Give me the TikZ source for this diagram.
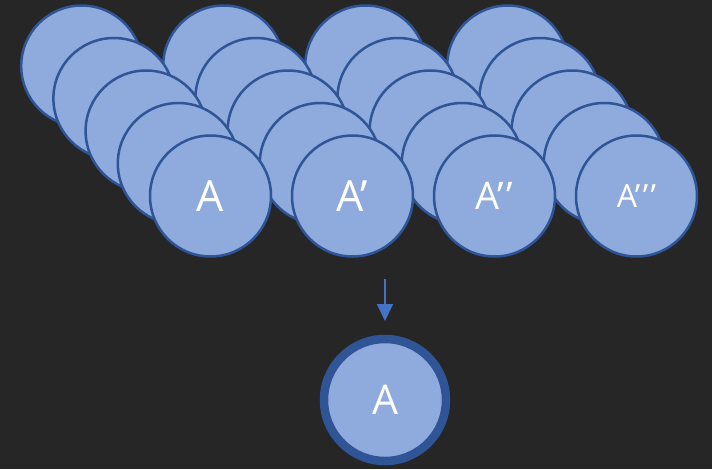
\documentclass[tikz,border=0pt]{standalone}
\usepackage{fontspec}
\setmainfont{Open Sans}
\usetikzlibrary{arrows.meta}
\definecolor{bg}{HTML}{262626}
\definecolor{cfill}{HTML}{8FAADC}
\definecolor{cline}{HTML}{2F5597}
\definecolor{arr}{HTML}{4472C4}
\tikzset{
  ball/.style={circle, draw=cline, fill=cfill, line width=2.5pt, minimum size=121pt, inner sep=0pt, text=white},
  bigball/.style={circle, draw=cline, fill=cfill, line width=8.5pt, minimum size=122pt, inner sep=0pt, text=white},
  flow/.style={draw=arr, line width=2pt, -{Triangle[length=17pt,width=16pt]}}
}
\begin{document}
\begin{tikzpicture}[x=1pt,y=-1pt]
\fill[bg] (0,0) rectangle (712,469);
\useasboundingbox (0,0) rectangle (712,469);
\foreach \k in {4,3,2,1} {
  \foreach \g in {0,1,2,3} {
    \node[ball] (b\g\k) at ({210.5+142*\g-32.2*\k},{196-32.5*\k}) {};
  }
}
\node[ball, font=\fontsize{43}{43}\selectfont] (f0) at (210.5,196) {A};
\node[ball, font=\fontsize{43}{43}\selectfont] (f1) at (352.5,196) {A’};
\node[ball, font=\fontsize{38}{38}\selectfont] (f2) at (494.5,196) {A’\kern3pt’};
\node[ball, font=\fontsize{32}{32}\selectfont] (f3) at (636.5,196) {A’\kern2.5pt’\kern2.5pt’};
\node[bigball, font=\fontsize{41}{41}\selectfont] (res) at (385,400) {A};
\coordinate (s) at (385,279);
\coordinate (e) at (385,321);
\draw[flow] (s) -- (e);
\end{tikzpicture}
\end{document}
